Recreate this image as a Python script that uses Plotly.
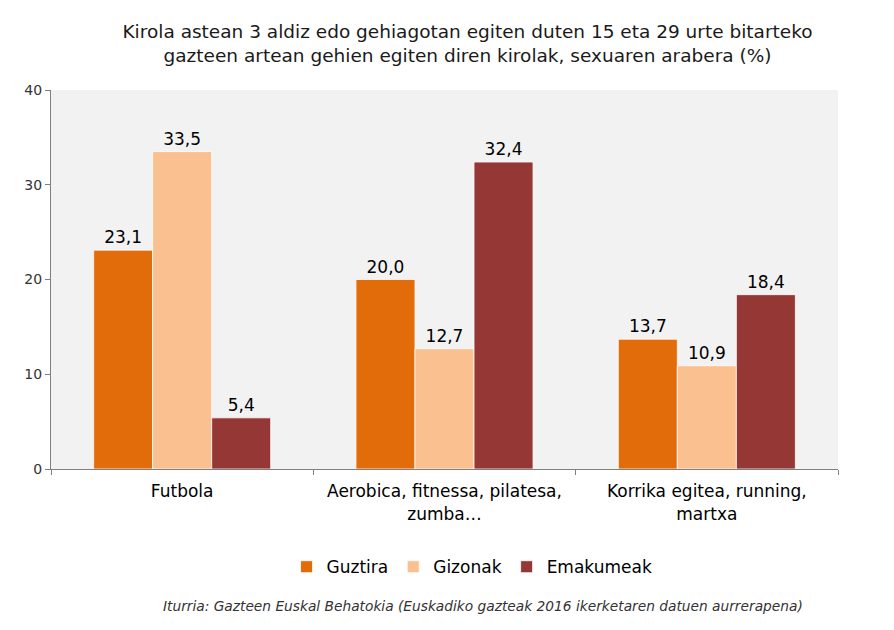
import plotly.graph_objects as go

categories = ['Futbola', 'Aerobica, fitnessa, pilatesa,<br>zumba…', 'Korrika egitea, running,<br>martxa']
guztira = [23.1, 20.0, 13.7]
gizonak = [33.5, 12.7, 10.9]
emakumeak = [5.4, 32.4, 18.4]
y_ticks = [0, 10, 20, 30, 40]

series = [('Guztira', guztira, '#E36C0A'),
          ('Gizonak', gizonak, '#FAC090'),
          ('Emakumeak', emakumeak, '#953735')]

fig = go.Figure()
for name, vals, col in series:
    fig.add_trace(go.Bar(
        name=name,
        x=categories,
        y=vals,
        marker=dict(color=col, line=dict(color='white', width=0.8)),
        text=['{:.1f}'.format(v).replace('.', ',') for v in vals],
        textposition='outside',
        cliponaxis=False,
        textfont=dict(size=17, color='black'),
    ))

# page has an 8px body margin, so margins are shifted to land the plot where the reference has it
fig.update_layout(
    width=894, height=630,
    barmode='group', bargap=0.325, bargroupgap=0,
    paper_bgcolor='white', plot_bgcolor='#F2F2F2',
    font=dict(family='DejaVu Sans', color='black'),
    margin=dict(l=43, r=64, t=82, b=169),
    title=dict(
        text='Kirola astean 3 aldiz edo gehiagotan egiten duten 15 eta 29 urte bitarteko<br>gazteen artean gehien egiten diren kirolak, sexuaren arabera (%)',
        x=0.514, xanchor='center', y=0.953, yanchor='top',
        font=dict(size=18.5, color='#1a1a1a'),
    ),
    legend=dict(orientation='h', x=0.535, xanchor='center', y=-0.259, yanchor='middle',
                font=dict(size=17), itemwidth=30, traceorder='normal'),
    showlegend=True,
)

fig.update_xaxes(
    tickson='boundaries', ticks='outside', ticklen=5, tickcolor='#7f7f7f',
    showline=True, linecolor='#7f7f7f', linewidth=1,
    tickfont=dict(size=17), showgrid=False, ticklabelstandoff=7,
)
fig.update_yaxes(
    range=[0, 40], tickvals=y_ticks, ticks='outside', ticklen=5, tickcolor='#7f7f7f',
    showline=True, linecolor='#7f7f7f', linewidth=1, showgrid=False, zeroline=False,
    tickfont=dict(size=14, color='#333333'),
)

fig.add_annotation(
    text='<i>Iturria: Gazteen Euskal Behatokia (Euskadiko gazteak 2016 ikerketaren datuen aurrerapena)</i>',
    xref='paper', yref='paper', x=0.958, xanchor='right', y=-0.361, yanchor='middle',
    showarrow=False, font=dict(size=13.75, color='#333333'),
)

fig.write_html('out.html')
